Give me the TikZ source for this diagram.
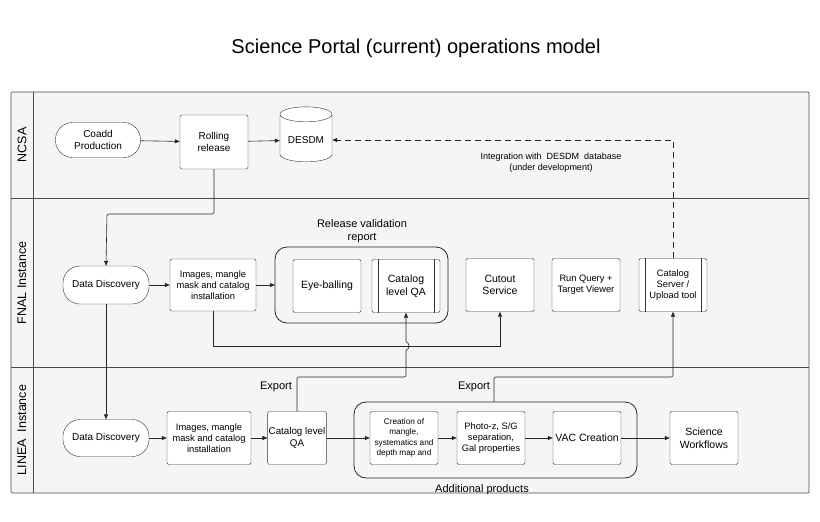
\documentclass[tikz,border=0pt]{standalone}
\usepackage{fontspec}
\setmainfont{Liberation Sans}
\usetikzlibrary{shapes.geometric,arrows.meta}
\begin{document}
\begin{tikzpicture}[x=1pt,y=-1pt,
 box/.style={draw=black!80,fill=white,rounded corners=1.5pt,minimum width=#1,align=center,font=\fontsize{9.3}{11}\selectfont,inner sep=1pt},
 box/.default=68pt,
 pill/.style={draw=black!80,fill=white,rounded corners=17pt,minimum width=86pt,minimum height=37pt,align=center,font=\fontsize{10}{12}\selectfont},
 grp/.style={draw=black!85,rounded corners=12pt,line width=0.8pt},
 arr/.style={-{Triangle[length=5pt,width=4pt]},black!85,line width=0.6pt},
 lbl/.style={font=\fontsize{9.5}{11}\selectfont,align=center},
 lane/.style={font=\fontsize{12.5}{14}\selectfont,rotate=90}]
\useasboundingbox (0,0) rectangle (820,522);
\fill[white] (0,0) rectangle (820,522);
\node[font=\fontsize{20}{24}\selectfont] (title) at (416,48) {Science Portal (current) operations model};
% lanes
\draw[black!70,fill=black!4,rounded corners=1pt,line width=0.7pt] (11,92) rectangle (809,493);
\draw[black!70,line width=0.7pt] (33,92) -- (33,493);
\draw[black!70,line width=0.7pt] (11,198) -- (809,198);
\draw[black!70,line width=0.7pt] (11,367) -- (809,367);
\node[lane] (l1) at (22,145) {NCSA};
\node[lane] (l2) at (22,283) {FNAL Instance};
\node[lane] (l3) at (22,430) {LINEA\ \ Instance};
% NCSA
\node[pill,minimum width=85pt,minimum height=35pt] (coadd) at (98,140) {Coadd\\Production};
\node[box,minimum height=54pt,font=\fontsize{10}{12}\selectfont] (roll) at (214,142) {Rolling\\release};
\node[cylinder,shape border rotate=90,draw=black!80,fill=white,minimum width=52pt,minimum height=55pt,aspect=0.35,font=\fontsize{10}{12}\selectfont] (desdm) at (306,140) {DESDM};
\draw[arr] (coadd) -- (roll);
\draw[arr] (roll) -- (desdm);
\node[lbl,font=\fontsize{9}{11}\selectfont] (integ) at (551,163) {Integration with\ \ DESDM\ \ database\\(under development)};
% FNAL
\node[pill,minimum height=38pt] (dd1) at (106,285) {Data Discovery};
\node[box,minimum width=86pt,minimum height=52pt] (img1) at (213,285) {Images, mangle\\mask and catalog\\installation};
\draw[grp] (275,247) rectangle (448,323);
\node[lbl,font=\fontsize{11}{13}\selectfont] (rvr) at (362,231) {Release validation\\report};
\node[box,minimum height=53pt,font=\fontsize{10.5}{12.5}\selectfont] (eye) at (327,286) {Eye-balling};
\node[box,minimum height=53pt,font=\fontsize{10.5}{12.5}\selectfont] (cqa1) at (406,286) {Catalog\\level QA};
\draw[black!80] ([xshift=6pt]cqa1.north west) -- ([xshift=6pt]cqa1.south west) ([xshift=-6pt]cqa1.north east) -- ([xshift=-6pt]cqa1.south east);
\node[box,minimum height=53pt,font=\fontsize{10.5}{12.5}\selectfont] (cut) at (500,285) {Cutout\\Service};
\node[box,minimum height=53pt] (rq) at (586,285) {Run Query +\\Target Viewer};
\node[box,minimum height=53pt] (cs) at (673,285) {Catalog\\Server /\\Upload tool};
\draw[black!80] ([xshift=6pt]cs.north west) -- ([xshift=6pt]cs.south west) ([xshift=-6pt]cs.north east) -- ([xshift=-6pt]cs.south east);
\draw[arr] (dd1) -- (img1);
\draw[arr] (img1.east) -- (275,285);
\draw[arr] (img1.south) |- (500,346) -- (cut.south);
\draw[arr,rounded corners=2pt] (roll.south) |- (107,214) -- (dd1.north);
\draw[arr,dash pattern=on 6pt off 4pt,line width=0.8pt] (cs.north) |- (desdm.east);
% LINEA
\node[pill,minimum height=37pt] (dd2) at (106,438) {Data Discovery};
\node[box,minimum width=84pt,minimum height=53pt] (img2) at (209,438) {Images, mangle\\mask and catalog\\installation};
\node[box,minimum width=58pt,minimum height=53pt,font=\fontsize{9.8}{12}\selectfont] (cqa2) at (297,438) {Catalog level\\QA};
\draw[grp] (354,402) rectangle (637,478);
\node[box,minimum height=53pt,font=\fontsize{8.2}{10.5}\selectfont] (crea) at (404,438) {Creation of\\mangle,\\systematics and\\depth map and};
\node[box,minimum height=53pt] (phz) at (491,438) {Photo-z, S/G\\separation,\\Gal properties};
\node[box,minimum height=53pt,font=\fontsize{10.5}{12.5}\selectfont] (vac) at (587,438) {VAC Creation};
\node[box,minimum height=53pt,font=\fontsize{10.5}{12.5}\selectfont] (sci) at (704,438) {Science\\Workflows};
\node[lbl,font=\fontsize{11}{13}\selectfont] (addp) at (482,490) {Additional products};
\node[lbl,font=\fontsize{11}{13}\selectfont] (ex1) at (276,387) {Export};
\node[lbl,font=\fontsize{11}{13}\selectfont] (ex2) at (474,387) {Export};
\draw[arr] (dd2) -- (img2);
\draw[arr] (img2) -- (cqa2);
\draw[arr] (cqa2) -- (crea);
\draw[arr] (crea) -- (phz);
\draw[arr] (phz) -- (vac);
\draw[arr] (vac) -- (sci);
\draw[arr] (dd1.south) -- (dd2.north);
\draw[arr,rounded corners=2pt] (cqa2.north) |- (406,377) -- (406,349) arc[start angle=-90,end angle=90,radius=3pt] -- (cqa1.south);
\draw[arr,rounded corners=2pt] (494,402) |- (673,377) -- (cs.south);
\end{tikzpicture}
\end{document}
